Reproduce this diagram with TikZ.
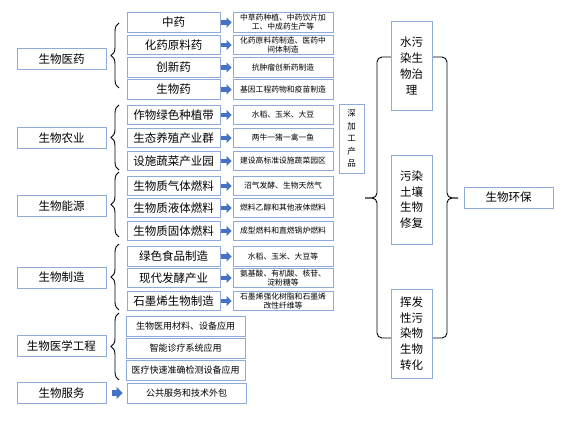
\documentclass[tikz,border=0pt]{standalone}
\usepackage{fontspec}
\setmainfont{Noto Sans CJK SC}
\usetikzlibrary{decorations.pathreplacing, arrows.meta}
\definecolor{boxblue}{RGB}{143,170,220}
\definecolor{arrblue}{RGB}{68,114,196}
\tikzstyle{catbox}=[draw=boxblue, fill=white, line width=0.9pt, minimum width=89pt, minimum height=21pt, inner sep=1pt, font=\fontsize{11.5}{14}\selectfont]
\tikzstyle{subbox}=[catbox, minimum width=93pt, minimum height=19.5pt]
\tikzstyle{prodbox}=[catbox, minimum width=100pt, minimum height=19.5pt, align=center, font=\fontsize{7.8}{9}\selectfont]
\tikzstyle{medbox}=[catbox, minimum width=119pt, minimum height=20pt, font=\fontsize{9}{11}\selectfont]
\tikzstyle{envbox}=[catbox, minimum width=41pt, minimum height=89pt, align=center, font=\fontsize{11.5}{15.7}\selectfont]
\tikzstyle{arr}=[arrblue, line width=4.5pt, -{Triangle[width=10pt,length=5pt]}, shorten <=1pt, shorten >=1pt]
\tikzstyle{brc}=[decorate, decoration={brace, amplitude=8pt}, line width=0.9pt]

\begin{document}
\begin{tikzpicture}[x=1pt, y=-1pt]
    \useasboundingbox (0,0) rectangle (568,435);
    \coordinate (b1a) at (119,88);
    \coordinate (b1b) at (119,23);
    \coordinate (b2a) at (119,170);
    \coordinate (b2b) at (119,105);
    \coordinate (b3a) at (119,237);
    \coordinate (b3b) at (119,172);
    \coordinate (b4a) at (119,310);
    \coordinate (b4b) at (119,244);
    \coordinate (b5a) at (119,380);
    \coordinate (b5b) at (119,313);
    \draw[brc] (b1a) -- (b1b);
    \draw[brc] (b2a) -- (b2b);
    \draw[brc] (b3a) -- (b3b);
    \draw[brc] (b4a) -- (b4b);
    \draw[brc] (b5a) -- (b5b);
    \coordinate (bl1) at (391,57);
    \coordinate (bl2) at (391,338);
    \coordinate (blt) at (365,198);
    \coordinate (br1) at (432,57);
    \coordinate (br2) at (432,338);
    \coordinate (brt) at (458,198);
    \draw[line width=0.9pt, rounded corners=5pt] (bl1) -- (377,57) -- (377,198) -- (blt);
    \draw[line width=0.9pt, rounded corners=5pt] (bl2) -- (377,338) -- (377,198) -- (blt);
    \draw[line width=0.9pt, rounded corners=5pt] (br1) -- (447,57) -- (447,198) -- (brt);
    \draw[line width=0.9pt, rounded corners=5pt] (br2) -- (447,338) -- (447,198) -- (brt);
    \node[catbox] (l1) at (61.5,59) {生物医药};
    \node[catbox] (l2) at (61.5,138) {生物农业};
    \node[catbox] (l3) at (61.5,206) {生物能源};
    \node[catbox] (l4) at (61.5,277.5) {生物制造};
    \node[catbox] (l5) at (61.5,346) {生物医学工程};
    \node[catbox] (l6) at (61.5,393) {生物服务};
    \node[subbox] (m1) at (173.5,22.5) {中药};
    \node[subbox] (m2) at (173.5,45) {化药原料药};
    \node[subbox] (m3) at (173.5,67.5) {创新药};
    \node[subbox] (m4) at (173.5,89.5) {生物药};
    \node[subbox] (m5) at (173.5,115) {作物绿色种植带};
    \node[subbox] (m6) at (173.5,138) {生态养殖产业群};
    \node[subbox] (m7) at (173.5,161) {设施蔬菜产业园};
    \node[subbox] (m8) at (173.5,186) {生物质气体燃料};
    \node[subbox] (m9) at (173.5,208) {生物质液体燃料};
    \node[subbox] (m10) at (173.5,231) {生物质固体燃料};
    \node[subbox] (m11) at (173.5,256.5) {绿色食品制造};
    \node[subbox] (m12) at (173.5,278) {现代发酵产业};
    \node[subbox] (m13) at (173.5,301) {石墨烯生物制造};
    \node[prodbox] (r1) at (283,22.5) {中草药种植、中药饮片加\\工、中成药生产等};
    \node[prodbox] (r2) at (283,45) {化药原料药制造、医药中\\间体制造};
    \node[prodbox] (r3) at (283,67.5) {抗肿瘤创新药制造};
    \node[prodbox] (r4) at (283,89.5) {基因工程药物和疫苗制造};
    \node[prodbox] (r5) at (283,115) {水稻、玉米、大豆};
    \node[prodbox] (r6) at (283,138) {两牛一猪一禽一鱼};
    \node[prodbox] (r7) at (283,161) {建设高标准设施蔬菜园区};
    \node[prodbox] (r8) at (283,186) {沼气发酵、生物天然气};
    \node[prodbox] (r9) at (283,208) {燃料乙醇和其他液体燃料};
    \node[prodbox] (r10) at (283,231) {成型燃料和直燃锅炉燃料};
    \node[prodbox] (r11) at (283,256.5) {水稻、玉米、大豆等};
    \node[prodbox] (r12) at (283,278) {氨基酸、有机酸、核苷、\\淀粉糖等};
    \node[prodbox] (r13) at (283,301) {石墨烯强化树脂和石墨烯\\改性纤维等};
    \node[medbox] (e1) at (185.5,326) {生物医用材料、设备应用};
    \node[medbox] (e2) at (185.5,348) {智能诊疗系统应用};
    \node[medbox] (e3) at (185.5,370.5) {医疗快速准确检测设备应用};
    \node[medbox] (s1) at (186.5,393) {公共服务和技术外包};
    \node[catbox, minimum width=25pt, minimum height=69pt, align=center, font=\fontsize{8.5}{12.5}\selectfont] (jg) at (351.5,138.5) {深\\加\\工\\产\\品};
    \node[envbox] (h1) at (411.5,66) {水污\\染生\\物治\\理};
    \node[envbox] (h2) at (411.5,199.5) {污染\\土壤\\生物\\修复};
    \node[envbox] (h3) at (411.5,333.5) {挥发\\性污\\染物\\生物\\转化};
    \node[catbox] (hb) at (508.5,197.5) {生物环保};
    \draw[arr] (m1) -- (r1);
    \draw[arr] (m2) -- (r2);
    \draw[arr] (m3) -- (r3);
    \draw[arr] (m4) -- (r4);
    \draw[arr] (m5) -- (r5);
    \draw[arr] (m6) -- (r6);
    \draw[arr] (m7) -- (r7);
    \draw[arr] (m8) -- (r8);
    \draw[arr] (m9) -- (r9);
    \draw[arr] (m10) -- (r10);
    \draw[arr] (m11) -- (r11);
    \draw[arr] (m12) -- (r12);
    \draw[arr] (m13) -- (r13);
    \draw[arr, line width=6pt, -{Triangle[width=12pt,length=6pt]}, shorten <=6pt, shorten >=4pt] (l6) -- (s1);
\end{tikzpicture}
\end{document}
